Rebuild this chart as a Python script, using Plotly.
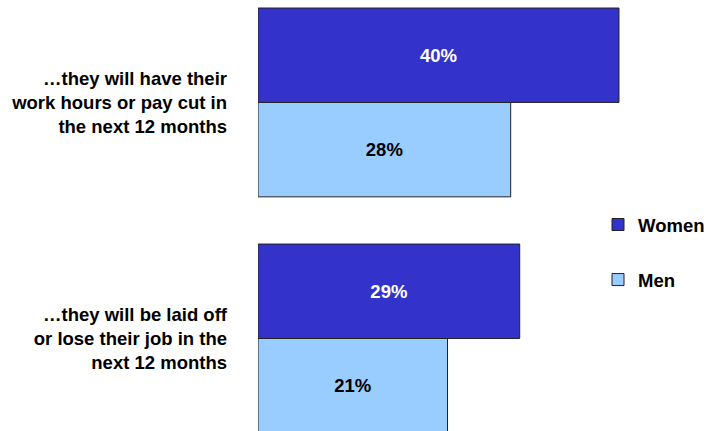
import plotly.graph_objects as go

# Survey items and the share of each group expecting them
statements = [
    "\u2026they will have their<br>work hours or pay cut in<br>the next 12 months",
    "\u2026they will be laid off<br>or lose their job in the<br>next 12 months",
]
women = [40, 29]
men = [28, 21]

FONT = "Liberation Sans, Arial, sans-serif"
SIZE = 18.5
women_color = "#3333CC"
men_color = "#99CCFF"
outline = "#222222"

fig = go.Figure()
fig.add_trace(go.Bar(
    name="Women", y=statements, x=women, orientation="h",
    marker=dict(color=women_color, line=dict(color=outline, width=1)),
    texttemplate="%{x}%", textposition="inside", insidetextanchor="middle",
    textangle=0, textfont=dict(family=FONT, size=SIZE, color="white", weight="bold"),
    legendgroup="w", hoverinfo="skip",
))
fig.add_trace(go.Bar(
    name="Men", y=statements, x=men, orientation="h",
    marker=dict(color=men_color, line=dict(color=outline, width=1)),
    texttemplate="%{x}%", textposition="inside", insidetextanchor="middle",
    textangle=0, textfont=dict(family=FONT, size=SIZE, color="black", weight="bold"),
    legendgroup="m", hoverinfo="skip",
))

fig.update_layout(
    width=704, height=431,
    margin=dict(l=258, r=2, t=0, b=0, autoexpand=False),
    paper_bgcolor="white", plot_bgcolor="white",
    barmode="group", bargap=0.2, bargroupgap=0,
    showlegend=True,
    legend=dict(
        x=(598 - 258) / 444, xanchor="left",
        y=1 - 206 / 431, yanchor="top",
        traceorder="grouped", tracegroupgap=28,
        font=dict(family=FONT, size=SIZE, color="black", weight="bold"),
        bgcolor="rgba(0,0,0,0)",
    ),
    xaxis=dict(range=[0, 49.2], visible=False, fixedrange=True),
    yaxis=dict(
        type="category", categoryorder="array", categoryarray=statements,
        range=[1.392, -0.434],
        showline=False, showgrid=False, zeroline=False,
        ticks="", ticklabelstandoff=30,
        tickfont=dict(family=FONT, size=SIZE, color="black", weight="bold"),
        fixedrange=True,
    ),
)

fig.write_html("out.html")
